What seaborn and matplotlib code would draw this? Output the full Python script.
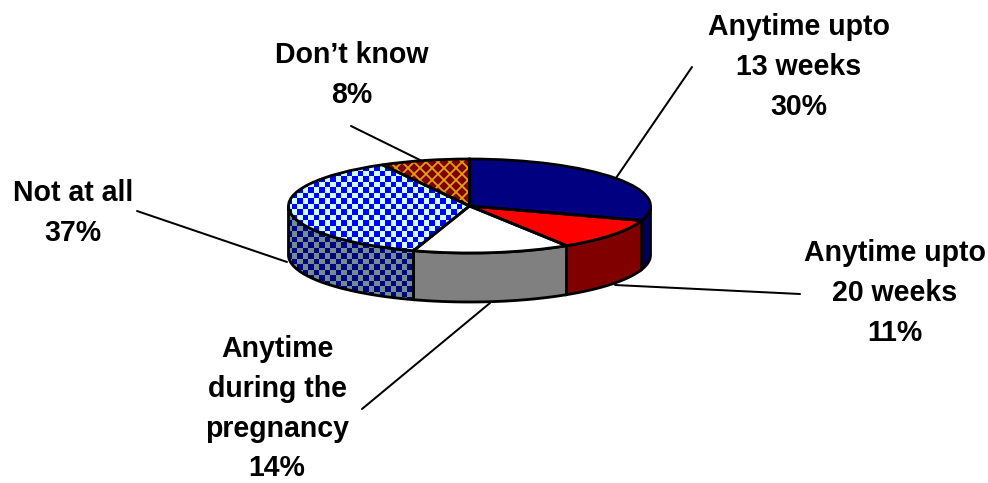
import numpy as np
import matplotlib
matplotlib.use("Agg")
import matplotlib.pyplot as plt
import seaborn as sns

# values, clockwise from 12 o'clock
labels = ["Anytime upto\n13 weeks", "Anytime upto\n20 weeks", "Anytime\nduring the\npregnancy", "Not at all", "Don\u2019t know"]
values = [30, 11, 14, 37, 8]
top_colors = ["#000080", "#ff0000", "#ffffff", "#ccffff", "#800000"]
wall_colors = ["#00005c", "#800000", "#808080", "#6f8f8f", "#5c0000"]

# label centre x, y of first line (px), leader line from/to (px)
label_x = [799, 895, 277, 73, 352]
label_y = [27, 253, 349, 193, 55]
leaders = [((692, 67), (616, 178)), ((800, 294), (615, 285)), ((362, 409), (490, 303)),
           ((137, 211), (287, 262)), ((351, 126), (420, 160))]

W, H = 988, 483
CX, CY, RX, RY, DEPTH = 469.5, 206, 181, 47, 49
CELL = 5.5

sns.set_theme(style="white")
plt.rcParams["font.family"] = ["Liberation Sans", "DejaVu Sans"]
plt.rcParams["hatch.linewidth"] = 1.8

def px(x, y):
    return (x - CX) / RX, (CY - y) / RY

fig = plt.figure(figsize=(W / 72, H / 72), dpi=72)
ax = fig.add_axes([0, 0, 1, 1])
x0, y1 = px(0, 0)
x1, y0 = px(W, H)
d = DEPTH / RY

def checker(color_a, color_b, z, clip):
    nx, ny = int(W / CELL), int(H / CELL)
    grid = np.indices((ny, nx)).sum(axis=0) % 2
    img = np.array([matplotlib.colors.to_rgb(color_a), matplotlib.colors.to_rgb(color_b)])[grid]
    ext = (x0, px(nx * CELL, 0)[0], px(0, ny * CELL)[1], y1)
    im = ax.imshow(img, extent=ext, aspect="auto", interpolation="nearest", zorder=z)
    im.set_clip_path(clip)

# side wall, only the front half of the disc shows
edges = np.cumsum([0] + values) / sum(values) * 360
for i in range(len(values)):
    a = max(edges[i], 90)
    b = min(edges[i + 1], 270)
    if b <= a:
        continue
    t = np.radians(np.linspace(a, b, 60))
    xs = np.sin(t)
    ys = np.cos(t)
    wall_x = np.r_[xs, xs[::-1]]
    wall_y = np.r_[ys, ys[::-1] - d]
    is_check = labels[i] == "Not at all"
    poly = ax.fill(wall_x, wall_y, facecolor="none" if is_check else wall_colors[i],
                   edgecolor="black", linewidth=2.8, zorder=4)[0]
    if is_check:
        checker("#000080", wall_colors[i], 3, poly)

# top of the disc
fills, _ = ax.pie(values, colors=top_colors, startangle=90, counterclock=False, radius=1,
                  wedgeprops={"linewidth": 0, "zorder": 5})
for w, lab in zip(fills, labels):
    if lab == "Not at all":
        w.set_facecolor("none")
        checker("#0000ff", "#ccffff", 5, w)
    if lab == "Don\u2019t know":
        w.set_edgecolor("#e0a010")
        w.set_hatch("xx")
        w.set_linewidth(0)
outline, _ = ax.pie(values, colors=["none"] * 5, startangle=90, counterclock=False, radius=1,
                    wedgeprops={"linewidth": 2.8, "edgecolor": "black", "zorder": 6})

ax.set_aspect("auto")
ax.set_xlim(x0, x1)
ax.set_ylim(y0, y1)
ax.axis("off")

# leader lines and labels
for (p, q) in leaders:
    a = px(*p)
    b = px(*q)
    ax.plot([a[0], b[0]], [a[1], b[1]], color="black", linewidth=2, zorder=2)

for lab, v, x, y in zip(labels, values, label_x, label_y):
    lines = lab.split("\n") + [f"{v}%"]
    for k, line in enumerate(lines):
        tx, ty = px(x, y + k * 39.8)
        ax.text(tx, ty, line, ha="center", va="center", fontsize=28.5, fontweight="bold", color="black", zorder=7)

fig.savefig("out.png", dpi=72, facecolor="white")
